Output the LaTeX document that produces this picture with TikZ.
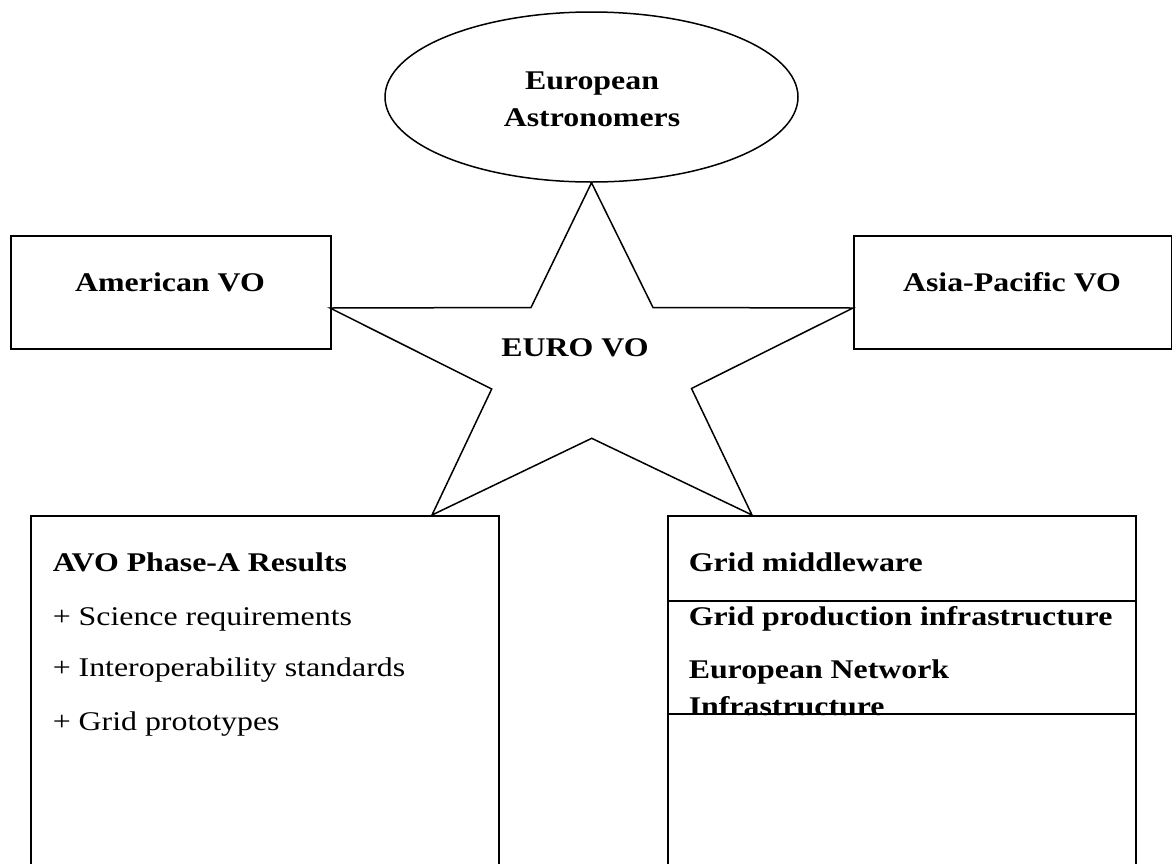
\documentclass[tikz,border=0pt]{standalone}
\usepackage{fontspec}
\setmainfont{Liberation Serif}[FakeStretch=1.18]
\usetikzlibrary{shapes.geometric,positioning}

\tikzset{
    box/.style={draw, rectangle, inner sep=0pt, anchor=north west},
    headtext/.style={inner sep=0pt, font=\fontsize{27}{36.7}\selectfont\bfseries},
    itemtext/.style={inner sep=0pt, anchor=base west, font=\fontsize{27}{36.7}\selectfont},
}

\begin{document}
\begin{tikzpicture}[x=1pt,y=-1pt,line width=1.5pt]

        %page frame, the boxes at the bottom run off it
        \useasboundingbox (0,0) rectangle (1172,863);
        \clip (0,0) rectangle (1172,863);

        %European astronomers on top
        \node[draw, ellipse, minimum width=413pt, minimum height=170pt, inner sep=0pt] (astro) at (591.5,97) {};
        \node[headtext, align=center] (astrolabel) at (592,99.5) {European\\Astronomers};

        %VO partners left and right
        \node[box, minimum width=320pt, minimum height=113pt] (american) at (10,235) {};
        \node[headtext, anchor=base] (americanlabel) at (170,291.7) {American VO};

        \node[box, minimum width=318pt, minimum height=113pt] (asia) at (853,235) {};
        \node[headtext, anchor=base] (asialabel) at (1012,291.7) {Asia-Pacific VO};

        %AVO results box (left bottom)
        \node[box, minimum width=468pt, minimum height=400pt] (avo) at (30,515) {};
        \node[itemtext, font=\fontsize{27}{36.7}\selectfont\bfseries] (avohead) at (52,571.7) {AVO Phase-A Results};
        \node[itemtext] (avoscience) at (52,625) {+ Science requirements};
        \node[itemtext] (avointerop) at (52,676.7) {+ Interoperability standards};
        \node[itemtext] (avoproto) at (52,730) {+ Grid prototypes};

        %Grid box (right bottom), three layers
        \node[box, minimum width=468pt, minimum height=85pt] (gridtop) at (667,515) {};
        \node[box, minimum width=468pt, minimum height=113pt] (gridmid) at (667,600) {};
        \node[box, minimum width=468pt, minimum height=250pt] (gridlow) at (667,713) {};
        \node[itemtext, font=\fontsize{27}{36.7}\selectfont\bfseries] (gridmiddle) at (688,571.7) {Grid middleware};
        \node[itemtext, font=\fontsize{27}{36.7}\selectfont\bfseries] (gridprod) at (688,625) {Grid production infrastructure};
        \node[itemtext, font=\fontsize{27}{36.7}\selectfont\bfseries] (euronet) at (688,678.3) {European Network};
        \node[itemtext, font=\fontsize{27}{36.7}\selectfont\bfseries] (euroinfra) at (688,715) {Infrastructure};

        %star points touching the boxes
        \coordinate (starleft) at (330,308);
        \coordinate (starright) at (853,308);
        \coordinate (starlowleft) at (432,515);
        \coordinate (starlowright) at (752,515);

        %EURO VO star
        \draw[line join=miter] (astro.south) -- (531,307.5) -- (starleft) -- (491.7,389) -- (starlowleft)
            -- (591.7,438.3) -- (starlowright) -- (691.5,388.5) -- (starright) -- (653,307.5) -- cycle;
        \node[headtext, anchor=base] (euro) at (575,356.7) {EURO VO};

\end{tikzpicture}
\end{document}
